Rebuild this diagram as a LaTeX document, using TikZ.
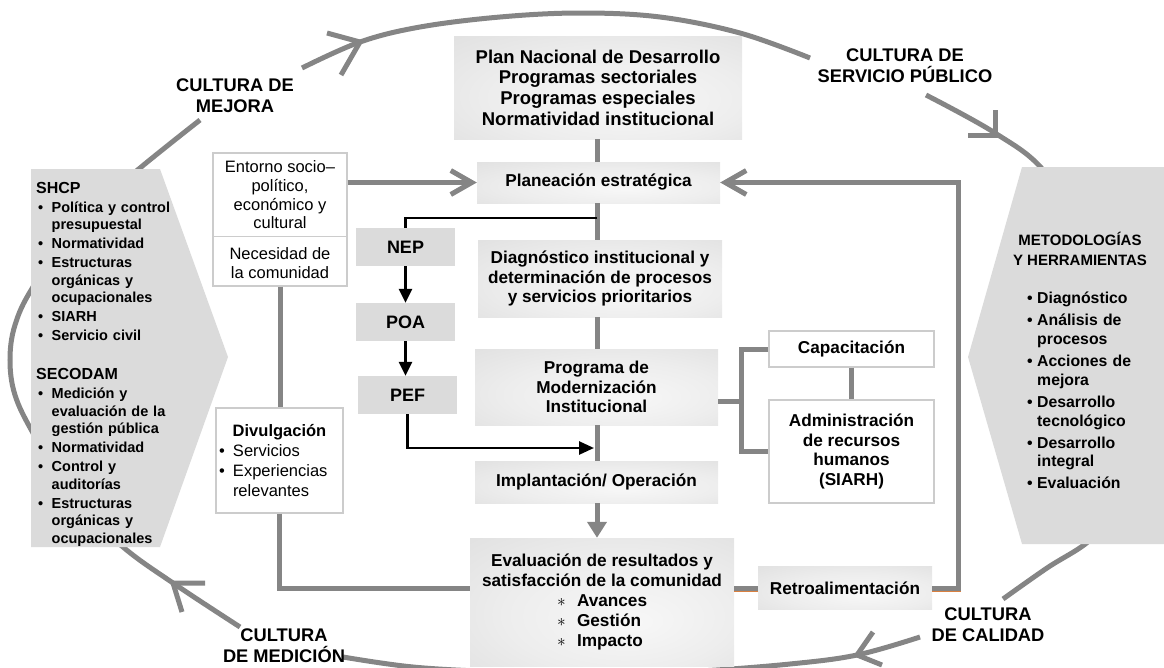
\documentclass[tikz,border=0pt]{standalone}
\usepackage{fontspec}
\setmainfont{Liberation Sans}
\usetikzlibrary{arrows.meta}

\definecolor{linegray}{gray}{0.52}
\definecolor{panelgray}{gray}{0.86}
\definecolor{boxedge}{gray}{0.80}
\definecolor{rustline}{rgb}{0.85,0.50,0.25}

% soft glow used to fill the grey process boxes
\pgfdeclareradialshading{boxglow}{\pgfpoint{6bp}{-8bp}}{color(0bp)=(gray!6); color(22bp)=(gray!14); color(48bp)=(gray!28); color(60bp)=(gray!32)}
% white boxes with a faint grey rim
\pgfdeclareradialshading{paleglow}{\pgfpoint{0bp}{0bp}}{color(0bp)=(white); color(38bp)=(white); color(60bp)=(gray!14)}

% bullet items of the two side panels (lines broken with \newline keep the hanging indent)
\newcommand{\leftitem}[1]{\par\hangindent=15.5pt\hangafter=1\noindent\hspace*{2pt}\makebox[13.5pt][l]{\textbullet}#1}
\newcommand{\rightitem}[1]{\par\hangindent=10pt\hangafter=1\noindent\makebox[10pt][l]{\textbullet}#1}
% starred lines of the evaluation box
\newcommand{\evalitem}[1]{\makebox[90pt][l]{\makebox[20pt][l]{$\ast$}#1}}

\begin{document}
\begin{tikzpicture}[x=1pt, y=-1pt,
  loopline/.style={draw=linegray, line width=5pt},
  conn/.style={draw=linegray, line width=5pt},
  blackconn/.style={draw=black, line width=2.6pt},
  openhead/.style={-{Straight Barb[length=21pt,width=24pt]}},
  graybox/.style={shade, shading=boxglow, inner sep=0pt, align=center,
    font=\bfseries\fontsize{17.2}{19.8}\selectfont},
  palebox/.style={shade, shading=paleglow, draw=boxedge, line width=1.2pt,
    inner sep=0pt, align=center, font=\bfseries\fontsize{17.2}{19.8}\selectfont},
  codebox/.style={fill=panelgray, inner sep=0pt, minimum width=99pt,
    minimum height=38pt, font=\bfseries\fontsize{18}{20}\selectfont},
  culture/.style={align=center, inner sep=0pt,
    font=\bfseries\fontsize{18.3}{21}\selectfont}
]
\useasboundingbox (0,0) rectangle (1164,667);

% ---------- the surrounding improvement cycle ----------
\begin{scope}
\clip (0,0) rectangle (1164,667);
% medicion -> mejora (left side)
\draw[loopline] plot[smooth, tension=0.6] coordinates
  {(240,627) (173,583) (123,547) (72,498) (33,433) (15,395) (10,360) (15,325) (33,287) (80,220) (140,168) (200,120)};
% mejora -> servicio publico (top)
\draw[loopline] plot[smooth, tension=0.6] coordinates
  {(302,68) (360,42) (420,27) (500,17) (580,13) (660,17) (740,33) (810,58)};
% servicio publico -> calidad (right side)
\draw[loopline] plot[smooth, tension=0.6] coordinates
  {(926,95) (995,133) (1045,172) (1095,250) (1125,350) (1130,440) (1115,505) (1090,540) (1047,568) (1003,599)};
% calidad -> medicion (bottom)
\draw[loopline] plot[smooth, tension=0.6] coordinates
  {(920,637) (857,655) (790,664) (700,671) (600,675) (500,672) (413,667) (343,657)};
% open arrowheads on the cycle
\draw[loopline, line cap=butt] (327,33) -- (360,42) -- (341,75);
\draw[loopline, line cap=butt] (995,110) -- (995,135) -- (968,135);
\draw[loopline, line cap=butt] (873,632) -- (857,655) -- (882,665);
\draw[loopline, line cap=butt] (205,583) -- (173,583) -- (182,612);
\end{scope}

\node[culture] (cmejora) at (235,95.5) {CULTURA DE\\MEJORA};
\node[culture] (cservicio) at (905,66) {CULTURA DE\\SERVICIO PÚBLICO};
\node[culture] (ccalidad) at (988,625) {CULTURA\\DE CALIDAD};
\node[culture] (cmedicion) at (284,646) {CULTURA\\DE MEDICIÓN};

% ---------- side panels ----------
\fill[panelgray] (31,169) -- (160,169) -- (228,357) -- (160,547) -- (31,547) -- cycle;
\fill[panelgray] (1022,167) -- (1164,167) -- (1164,544) -- (1022,544) -- (968,357) -- cycle;

\node[anchor=north west, inner sep=0pt, text width=185pt, align=left,
      font=\bfseries\fontsize{14.5}{17.5}\selectfont] (shcp) at (36,179.8) {%
\setlength{\parskip}{1.5pt}\setlength{\parindent}{0pt}%
\noindent{\fontsize{16}{17.5}\selectfont\rule{0pt}{13pt}SHCP}%
\leftitem{Política y control\newline presupuestal}%
\leftitem{Normatividad}%
\leftitem{Estructuras\newline orgánicas y\newline ocupacionales}%
\leftitem{SIARH}%
\leftitem{Servicio civil}%
\par\vspace{20pt}%
\noindent{\fontsize{16}{17.5}\selectfont SECODAM}%
\leftitem{Medición y\newline evaluación de la\newline gestión pública}%
\leftitem{Normatividad}%
\leftitem{Control y\newline auditorías}%
\leftitem{Estructuras\newline orgánicas y\newline ocupacionales}\par};

\node[anchor=north, inner sep=0pt, align=center,
      font=\bfseries\fontsize{15}{20}\selectfont] (toolshead) at (1080,230.4)
  {\rule{0pt}{15pt}METODOLOGÍAS\\Y HERRAMIENTAS};
\node[anchor=north west, inner sep=0pt, text width=130pt, align=left,
      font=\bfseries\fontsize{15.8}{18.7}\selectfont] (tools) at (1027,281.7) {%
\setlength{\parskip}{3.3pt}\setlength{\parindent}{0pt}%
\rightitem{\rule{0pt}{13pt}Diagnóstico}%
\rightitem{Análisis de\newline procesos}%
\rightitem{Acciones de\newline mejora}%
\rightitem{Desarrollo\newline tecnológico}%
\rightitem{Desarrollo\newline integral}%
\rightitem{Evaluación}\par};

% ---------- central column ----------
\node[graybox, font=\bfseries\fontsize{18.5}{20.7}\selectfont,
      minimum width=288pt, minimum height=103pt] (plan) at (598,87.5)
  {Plan Nacional de Desarrollo\\Programas sectoriales\\Programas especiales\\Normatividad institucional};
\node[graybox, minimum width=243pt, minimum height=41pt] (planea) at (598.5,182.5) {Planeación estratégica};
\node[graybox, minimum width=244pt, minimum height=77pt] (diag) at (600,278.5)
  {Diagnóstico institucional y\\determinación de procesos\\y servicios prioritarios};
\node[graybox, minimum width=243pt, minimum height=76pt] (prog) at (596.5,387)
  {Programa de\\Modernización\\Institucional};
\node[graybox, minimum width=243pt, minimum height=42pt] (impl) at (596.5,482) {Implantación/ Operación};
\node[graybox, minimum width=264pt, minimum height=128pt] (eval) at (602,602)
  {Evaluación de resultados y\\satisfacción de la comunidad\\\evalitem{Avances}\\\evalitem{Gestión}\\\evalitem{Impacto}};
\node[graybox, minimum width=174pt, minimum height=43pt] (retro) at (845,588) {Retroalimentación};

\node[palebox, minimum width=165pt, minimum height=36pt] (capa) at (851.5,349) {Capacitación};
\node[palebox, minimum width=165pt, minimum height=103pt] (adm) at (851.5,451.5)
  {Administración\\de recursos\\humanos\\(SIARH)};

\node[codebox] (nep) at (405.5,247) {NEP};
\node[codebox] (poa) at (405.5,322) {POA};
\node[codebox] (pef) at (407.5,395) {PEF};

\node[palebox, font=\fontsize{16.5}{18.7}\selectfont, minimum width=134pt, minimum height=133pt] (ent) at (280,219.5)
  {Entorno socio–\\político,\\económico y\\cultural\\[12pt]Necesidad de\\la comunidad};
\coordinate (entsplit) at (280,236);
\draw[boxedge, line width=1pt] (ent.west |- entsplit) -- (ent.east |- entsplit);

\node[palebox, font=\fontsize{16.5}{19.7}\selectfont, text width=121pt, align=left,
      inner xsep=3pt, minimum width=127pt, minimum height=105pt] (div) at (279.5,460.5)
  {\makebox[121pt][c]{\bfseries Divulgación}\\\makebox[14pt][l]{\textbullet}Servicios\\\makebox[14pt][l]{\textbullet}Experiencias\\\hspace*{14pt}relevantes};

% ---------- connectors ----------
\coordinate (axis) at (597,0);
\coordinate (fork) at (597,218);
\coordinate (pefin) at (594,448);
\coordinate (brk) at (741,401);

\draw[conn] (axis |- plan.south) -- (axis |- planea.north);
\draw[conn] (axis |- planea.south) -- (axis |- diag.north);
\draw[conn] (axis |- diag.south) -- (axis |- prog.north);
\draw[conn] (axis |- prog.south) -- (axis |- impl.north);
\draw[conn, -{Triangle[length=16pt,width=19pt]}] (axis |- impl.south) -- (axis |- eval.north);

\draw[blackconn] (fork) -| (nep.north);
\draw[blackconn, -{Triangle[length=14pt,width=13pt]}] (nep.south) -- (nep.south |- poa.north);
\draw[blackconn, -{Triangle[length=14pt,width=13pt]}] (poa.south) -- (poa.south |- pef.north);
\draw[blackconn, -{Triangle[length=15pt,width=13pt]}] (pef.south) |- (pefin);

\draw[conn, openhead] (ent.east |- planea.west) -- (planea.west);
\draw[conn] (ent.south) -- (ent.south |- div.north);
\draw[conn] (div.south) |- (eval.west |- retro.west);
\draw[conn] (eval.east |- retro.west) -- (retro.west);
\draw[conn, openhead] (retro.east) -- ++(26,0) |- (planea.east);
\begin{scope}[transform canvas={yshift=-3.2pt}]
\draw[rustline, line width=1.4pt] (eval.east |- retro.west) -- (retro.west);
\draw[rustline, line width=1.4pt] (retro.east) -- ++(28.5,0);
\end{scope}

\draw[conn] (prog.east |- brk) -- (brk);
\draw[conn] (capa.west) -| (brk) |- (adm.west);
\draw[conn] (capa) -- (adm);

\end{tikzpicture}
\end{document}
